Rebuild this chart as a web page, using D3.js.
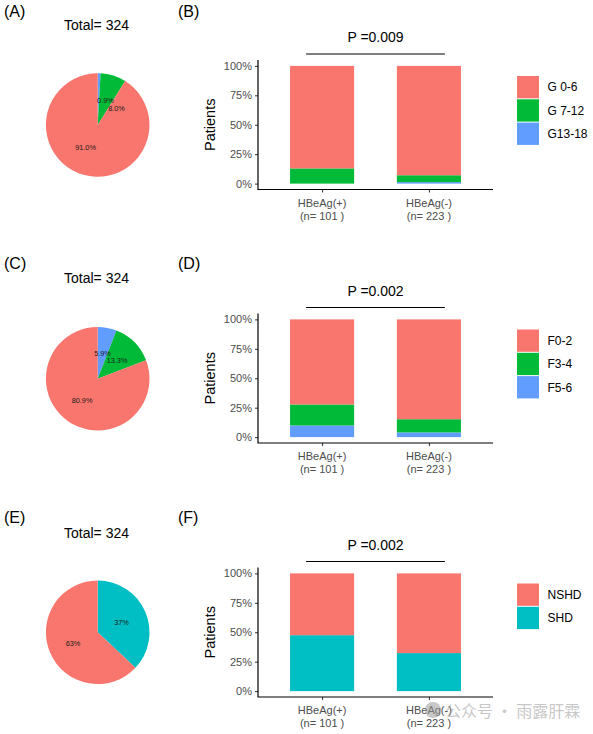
<!DOCTYPE html>
<html><head><meta charset="utf-8">
<script src="https://cdn.jsdelivr.net/npm/d3@7"></script>
<style>body{margin:0;background:#fff;} svg{display:block;font-family:"Liberation Sans",Arial,sans-serif;}</style>
</head><body>
<script>
// ---------- data ----------
const groups = ["HBeAg(+)", "HBeAg(-)"];
const groupN = [101, 223];
const total = 324;

const gradeLevels = ["G 0-6", "G 7-12", "G13-18"];
const gradePie = [91.0, 8.0, 0.9];
const gradePos = [87.1, 12.9, 0.0];
const gradeNeg = [92.9, 5.8, 1.3];
const gradeP = "P =0.009";

const fibLevels = ["F0-2", "F3-4", "F5-6"];
const fibPie = [80.9, 13.3, 5.9];
const fibPos = [72.3, 17.8, 9.9];
const fibNeg = [84.8, 11.2, 4.0];
const fibP = "P =0.002";

const shdLevels = ["NSHD", "SHD"];
const shdPie = [63, 37];
const shdPos = [52.5, 47.5];
const shdNeg = [67.7, 32.3];
const shdP = "P =0.002";

const pieLabelText = [["91.0%", "8.0%", "0.9%"], ["80.9%", "13.3%", "5.9%"], ["63%", "37%"]];
const yTicks = [0, 0.25, 0.5, 0.75, 1];

// ---------- layout ----------
const W = 593, H = 734;
const col3 = ["#F8766D", "#00BA38", "#619CFF"];
const col2 = ["#F8766D", "#00BFC4"];
const svg = d3.select("body").append("svg").attr("width", W).attr("height", H);

const rows = [
  {tag: ["(A)", "(B)"], tagY: 17, pieCy: 125, totalY: 29.5, top: 60, levels: gradeLevels, pie: gradePie, pos: gradePos, neg: gradeNeg, p: gradeP, colors: col3, labels: pieLabelText[0],
   nudge: [[-5, -2], [11, 8], [7, 1.5]]},
  {tag: ["(C)", "(D)"], tagY: 269, pieCy: 378.7, totalY: 283, top: 313.5, levels: fibLevels, pie: fibPie, pos: fibPos, neg: fibNeg, p: fibP, colors: col3, labels: pieLabelText[1],
   nudge: [[-1, 0], [1, 0], [0, 0]]},
  {tag: ["(E)", "(F)"], tagY: 523, pieCy: 632.3, totalY: 538, top: 567.5, levels: shdLevels, pie: shdPie, pos: shdPos, neg: shdNeg, p: shdP, colors: col2, labels: pieLabelText[2],
   nudge: [[-1, 1], [0, 0]]}
];

const pieCx = 97.7, pieR = 51.8;
const plotL = 258, plotR = 493, plotH = 129.5;

rows.forEach(row => {
  // panel tags
  svg.append("text").attr("x", 4).attr("y", row.tagY).attr("font-size", 16).attr("fill", "#000").text(row.tag[0]);
  svg.append("text").attr("x", 178).attr("y", row.tagY).attr("font-size", 16).attr("fill", "#000").text(row.tag[1]);

  // ---- pie ----
  svg.append("text").attr("x", 96.5).attr("y", row.totalY).attr("text-anchor", "middle")
    .attr("font-size", 14).attr("fill", "#000").text("Total= " + total);
  const n = row.levels.length;
  // stacking order: last level starts at 12 o'clock, clockwise
  const idx = d3.range(n).reverse();
  const pieData = [];
  let acc = 0;
  const sum = d3.sum(row.pie);
  idx.forEach(i => {
    const a0 = acc / sum * 2 * Math.PI;
    acc += row.pie[i];
    const a1 = acc / sum * 2 * Math.PI;
    pieData.push({i, startAngle: a0, endAngle: a1});
  });
  const arc = d3.arc().innerRadius(0).outerRadius(pieR);
  const pg = svg.append("g").attr("transform", `translate(${pieCx},${row.pieCy})`);
  pg.selectAll("path").data(pieData).join("path").attr("d", arc).attr("fill", d => row.colors[d.i]);
  pg.selectAll("text").data(pieData).join("text")
    .attr("x", d => arc.centroid(d)[0] + row.nudge[d.i][0])
    .attr("y", d => arc.centroid(d)[1] + row.nudge[d.i][1])
    .attr("text-anchor", "middle").attr("dy", "0.35em").attr("font-size", 7.3).attr("fill", "#1a1a1a")
    .text(d => row.labels[d.i]);

  // ---- stacked bar ----
  const x = d3.scaleLinear().domain([0.4, 2.6]).range([plotL, plotR]);
  const y = d3.scaleLinear().domain([-0.05, 1.05]).range([row.top + plotH, row.top]);
  const bw = 0.6;
  const g = svg.append("g");
  [row.pos, row.neg].forEach((vals, gi) => {
    let c = 0;
    const s = d3.sum(vals);
    for (let k = n - 1; k >= 0; k--) {
      const v0 = c / s, v1 = (c + vals[k]) / s;
      c += vals[k];
      if (vals[k] <= 0) continue;
      g.append("rect").attr("x", x(gi + 1 - bw / 2)).attr("width", x(gi + 1 + bw / 2) - x(gi + 1 - bw / 2))
        .attr("y", y(v1)).attr("height", y(v0) - y(v1)).attr("fill", row.colors[k]);
    }
  });
  // axes
  const yAxis = d3.axisLeft(y).tickValues(yTicks).tickFormat(d3.format(".0%")).tickSize(3).tickPadding(3);
  const ya = svg.append("g").attr("transform", `translate(${plotL},0)`).call(yAxis);
  const xAxis = d3.axisBottom(x).tickValues([1, 2]).tickFormat("").tickSize(3);
  const xa = svg.append("g").attr("transform", `translate(0,${row.top + plotH})`).call(xAxis);
  [ya, xa].forEach(a => {
    a.select(".domain").remove();
    a.selectAll(".tick line").attr("stroke", "#333").attr("stroke-width", 1);
    a.selectAll(".tick text").attr("fill", "#4D4D4D").attr("font-size", 11).attr("font-family", "Liberation Sans, Arial, sans-serif");
  });
  // axis lines
  svg.append("path").attr("d", `M${plotL},${row.top}V${row.top + plotH}H${plotR}`)
    .attr("fill", "none").attr("stroke", "#000").attr("stroke-width", 1.2);
  // x labels
  groups.forEach((gname, gi) => {
    const t = svg.append("text").attr("text-anchor", "middle").attr("font-size", 11).attr("fill", "#4D4D4D");
    t.append("tspan").attr("x", x(gi + 1)).attr("y", row.top + plotH + 17).text(gname);
    t.append("tspan").attr("x", x(gi + 1)).attr("y", row.top + plotH + 30).text("(n= " + groupN[gi] + " )");
  });
  // y title
  svg.append("text").attr("transform", `translate(215,${row.top + plotH / 2}) rotate(-90)`)
    .attr("text-anchor", "middle").attr("font-size", 14.5).attr("fill", "#000").text("Patients");
  // p value
  svg.append("line").attr("x1", x(0.85)).attr("x2", x(2.15)).attr("y1", row.top - 6).attr("y2", row.top - 6)
    .attr("stroke", "#000").attr("stroke-width", 1);
  svg.append("text").attr("x", x(1.5)).attr("y", row.top - 18).attr("text-anchor", "middle")
    .attr("font-size", 14).attr("fill", "#000").text(row.p);
  // legend
  const lg = svg.append("g").attr("transform", `translate(517,${row.top + 16})`);
  row.levels.forEach((lv, k) => {
    lg.append("rect").attr("x", 0).attr("y", k * 23.3).attr("width", 22).attr("height", 22.3)
      .attr("fill", row.colors[k]);
    lg.append("text").attr("x", 30.5).attr("y", k * 23.3 + 11.2).attr("dy", "0.35em")
      .attr("font-size", 12).attr("fill", "#000").text(lv);
  });
});

// watermark
const wm = svg.append("g").attr("opacity", 0.55);
wm.append("circle").attr("cx", 433).attr("cy", 710).attr("r", 8).attr("fill", "#9a9a9a");
wm.append("text").attr("x", 445).attr("y", 717).attr("font-size", 16)
  .attr("font-family", "Noto Sans CJK SC, sans-serif").attr("fill", "#9a9a9a").text("公众号 · 雨露肝霖");
</script>
</body></html>
